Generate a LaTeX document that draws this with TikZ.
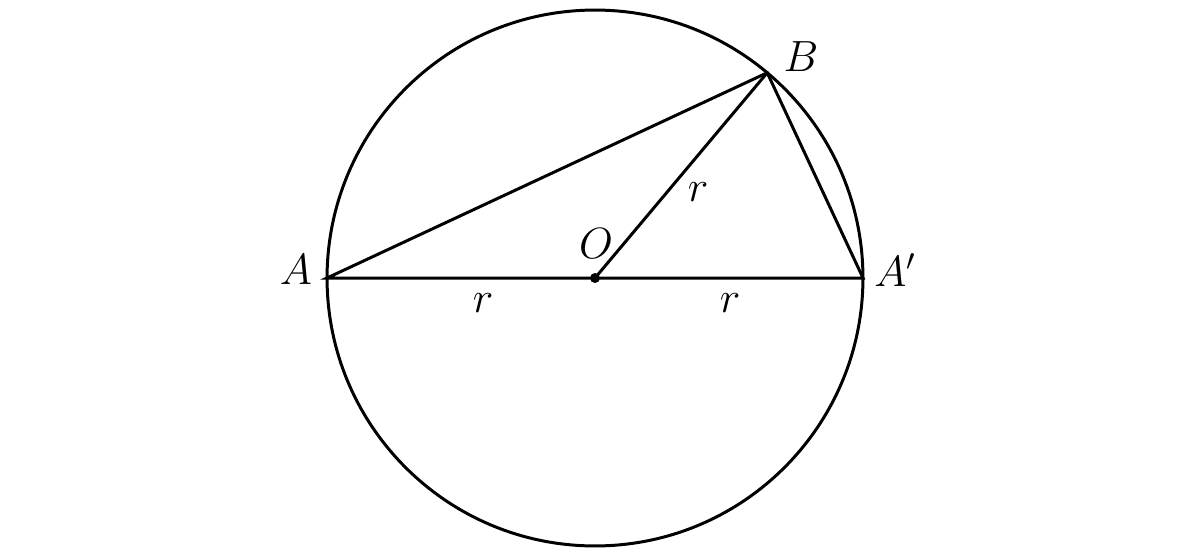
\documentclass[tikz,border=0pt]{standalone}
\usetikzlibrary{calc}
\begin{document}
\begin{tikzpicture}[x=0.02cm,y=-0.02cm,line width=1.7pt,
  lbl/.style={inner sep=0pt,font=\fontsize{25}{30}\selectfont}]
\useasboundingbox (0,0) rectangle (1200,555);
\coordinate (O) at (595,278);
\coordinate (A) at (327,278);
\coordinate (A') at (863,278);
\coordinate (B) at ($(O)+(50:5.36cm)$);
\draw (O) circle[radius=5.36cm];
\draw (A) -- (A') -- (B) -- cycle;
\draw (O) -- (B);
\fill (O) circle[radius=0.1cm];
\node[lbl] (lA) at (296,270) {$A$};
\node[lbl] (lAp) at (895,270) {$A'$};
\node[lbl] (lB) at (801,57) {$B$};
\node[lbl] (lO) at (596,244) {$O$};
\node[lbl] (r1) at (698,192) {$r$};
\node[lbl] (r2) at (483,303) {$r$};
\node[lbl] (r3) at (730,303) {$r$};
\end{tikzpicture}
\end{document}
